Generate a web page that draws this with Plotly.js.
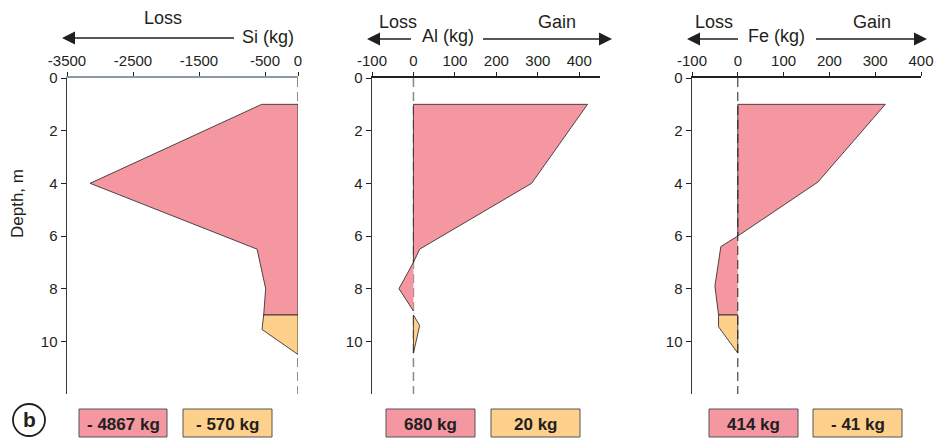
<!DOCTYPE html>
<html>
<head>
<meta charset="utf-8">
<script src="https://cdn.plot.ly/plotly-3.0.1.min.js"></script>
<style>html,body{margin:0;padding:0;background:#fff}#chart{width:934px;height:438px}</style>
</head>
<body>
<div id="chart"></div>
<script>
// ---- data (depth in m, mass change in kg) ----
const depthTicks = [0, 2, 4, 6, 8, 10];

const siTicks = [-3500, -2500, -1500, -500, 0];
const siPinkX = [0, -550, -3150, -620, -490, -520, 0, 0];
const siPinkY = [1, 1, 4, 6.5, 8, 9, 9, 1];
const siOrangeX = [-520, -545, 0, 0, -520];
const siOrangeY = [9, 9.55, 10.5, 9, 9];

const alTicks = [-100, 0, 100, 200, 300, 400];
const alPinkX = [0, 0, 420, 285, 15, 0, -35, 0];
const alPinkY = [7, 1, 1, 4, 6.5, 7, 8, 8.85];
const alOrangeX = [0, 15, 0, 0];
const alOrangeY = [9, 9.4, 10.45, 9];

const feTicks = [-100, 0, 100, 200, 300, 400];
const fePinkX = [0, 0, 322, 175, 0, -37, -50, -42, 0];
const fePinkY = [6, 1, 1, 3.95, 6, 6.4, 7.9, 9, 9];
const feOrangeX = [-42, 0, 0, -42, -42];
const feOrangeY = [9, 9, 10.45, 9.45, 9];

const totalsPink = ['- 4867 kg', '680 kg', '414 kg'];
const totalsOrange = ['- 570 kg', '20 kg', '- 41 kg'];

// ---- styling ----
const W = 934, H = 438;
const px = x => x / W;
const py = y => 1 - y / H;
const PINK = '#f497a1', ORANGE = '#fdd08c', INK = '#231f20';
const FONT = 'Liberation Sans, Arial, sans-serif';

function poly(x, y, fill, xa, ya) {
  return {x: x, y: y, xaxis: xa, yaxis: ya, type: 'scatter', mode: 'lines',
    fill: 'toself', fillcolor: fill, line: {color: INK, width: 0.8},
    hoverinfo: 'skip', showlegend: false};
}

const data = [
  poly(siPinkX, siPinkY, PINK, 'x', 'y'),
  poly(siOrangeX, siOrangeY, ORANGE, 'x', 'y'),
  poly(alPinkX, alPinkY, PINK, 'x2', 'y2'),
  poly(alOrangeX, alOrangeY, ORANGE, 'x2', 'y2'),
  poly(fePinkX, fePinkY, PINK, 'x3', 'y3'),
  poly(feOrangeX, feOrangeY, ORANGE, 'x3', 'y3')
];

const yDom = [py(394), py(78)];
function xax(dom, range, ticks, lineColor) {
  return {domain: dom, range: range, side: 'top', tickvals: ticks,
    ticktext: ticks.map(String), showline: true, linecolor: lineColor, linewidth: 2,
    ticks: 'outside', ticklen: 4, tickcolor: INK, tickwidth: 1, showgrid: false, zeroline: false,
    tickfont: {family: FONT, size: 15, color: INK}, fixedrange: true};
}
function yax(anchor) {
  return {domain: yDom, range: [12, 0], autorange: false, anchor: anchor, tickvals: depthTicks,
    showline: true, linecolor: '#3a3a3c', linewidth: 1.5, ticks: 'outside', ticklen: 5,
    tickcolor: INK, showgrid: false, zeroline: false,
    tickfont: {family: FONT, size: 15, color: INK}, fixedrange: true};
}

const xa1 = xax([px(67), px(298)], [-3500, 0], siTicks, '#8d9aa5');
xa1.anchor = 'y';
const xa2 = xax([px(372), px(600)], [-100, 450], alTicks, INK);
xa2.anchor = 'y2';
const xa3 = xax([px(692), px(921)], [-100, 400], feTicks, INK);
xa3.anchor = 'y3';

const shapes = [
  {type: 'line', xref: 'x', yref: 'y', x0: 0, x1: 0, y0: 0, y1: 12, layer: 'below',
   line: {color: INK, width: 1, dash: '9px,5px'}},
  {type: 'line', xref: 'x2', yref: 'y2', x0: 0, x1: 0, y0: 0, y1: 12, layer: 'below',
   line: {color: '#8a8a8a', width: 1.5, dash: '9px,5px'}},
  {type: 'line', xref: 'x3', yref: 'y3', x0: 0, x1: 0, y0: 0, y1: 12, layer: 'above',
   line: {color: INK, width: 1, dash: '9px,5px'}},
  {type: 'circle', xref: 'paper', yref: 'paper', x0: px(13), x1: px(45), y0: py(436), y1: py(404),
   line: {color: INK, width: 1.8}}
];

const annotations = [];
function txt(t, x, y, size, extra) {
  annotations.push(Object.assign({xref: 'paper', yref: 'paper', x: px(x), y: py(y), text: t,
    showarrow: false, xanchor: 'center', yanchor: 'middle',
    font: {family: FONT, size: size, color: INK}}, extra || {}));
}
function arrow(headX, tailX, y) {
  annotations.push({xref: 'paper', yref: 'paper', x: px(headX), y: py(y), ax: tailX - headX, ay: 0,
    axref: 'pixel', ayref: 'pixel', text: ' ', showarrow: true, arrowhead: 2, arrowsize: 2,
    arrowwidth: 1.3, arrowcolor: INK, standoff: 0, startstandoff: 0, font: {size: 2}});
}

// Si panel header
txt('Loss', 163, 18, 18);
txt('Si (kg)', 268, 37, 18);
arrow(62, 236, 38);
// Al panel header
txt('Loss', 398, 22, 18);
txt('Gain', 557, 22, 18);
txt('Al (kg)', 448, 36, 18);
arrow(367, 413, 39);
arrow(612, 481, 39);
// Fe panel header
txt('Loss', 714, 22, 18);
txt('Gain', 872, 22, 18);
txt('Fe (kg)', 776, 36, 18);
arrow(687, 740, 39);
arrow(927, 814, 39);

txt('Depth, m', 17, 204, 17, {textangle: -90});
txt('<b>b</b>', 29, 419, 21);

// totals boxes
const pinkBoxes = [[79, 167], [386, 475], [709, 798]];
const orangeBoxes = [[183, 272], [491, 580], [813, 902]];
function box(x0, x1, color, label) {
  shapes.push({type: 'rect', xref: 'paper', yref: 'paper', x0: px(x0), x1: px(x1),
    y0: py(437), y1: py(409), fillcolor: color, line: {color: '#555', width: 1}});
  txt('<b>' + label + '</b>', (x0 + x1) / 2, 424, 16,
      {font: {family: 'Liberation Sans Narrow, Arial Narrow, ' + FONT, size: 17, color: INK}});
}
pinkBoxes.forEach((b, i) => box(b[0], b[1], PINK, totalsPink[i]));
orangeBoxes.forEach((b, i) => box(b[0], b[1], ORANGE, totalsOrange[i]));

const layout = {
  width: W, height: H, margin: {l: 0, r: 0, t: 0, b: 0},
  paper_bgcolor: '#fff', plot_bgcolor: 'rgba(0,0,0,0)', showlegend: false,
  xaxis: xa1, yaxis: yax('x'),
  xaxis2: xa2, yaxis2: yax('x2'),
  xaxis3: xa3, yaxis3: yax('x3'),
  shapes: shapes, annotations: annotations
};

Plotly.newPlot('chart', data, layout, {displayModeBar: false, staticPlot: true});
</script>
</body>
</html>
